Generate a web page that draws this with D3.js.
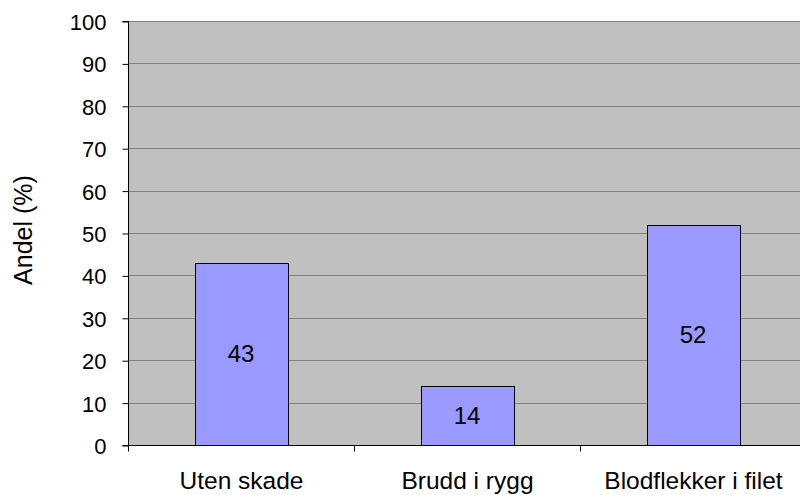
<!DOCTYPE html>
<html><head><meta charset="utf-8">
<script src="https://cdn.jsdelivr.net/npm/d3@7"></script>
<style>body{margin:0;background:#fff}svg{display:block}text{font-family:"Liberation Sans",Arial,sans-serif}</style>
</head><body>
<svg id="c" width="800" height="495"></svg>
<script>
const categories = ["Uten skade", "Brudd i rygg", "Blodflekker i filet"];
const values = [43, 14, 52];
const yTicks = [0, 10, 20, 30, 40, 50, 60, 70, 80, 90, 100];
const yLabel = "Andel (%)";

const svg = d3.select("#c");
const m = {left: 128, top: 21, right: 806, bottom: 445};
const x = d3.scaleBand().domain(categories).range([m.left, m.right]).paddingInner(0.59).paddingOuter(0.295);
const xb = d3.scaleBand().domain(categories).range([m.left, m.right]);
const y = d3.scaleLinear().domain([0, 100]).range([m.bottom, m.top]);

svg.append("rect").attr("x", m.left).attr("y", m.top).attr("width", m.right - m.left).attr("height", m.bottom - m.top).attr("fill", "#c0c0c0");

svg.append("g").selectAll("line").data(yTicks.filter(d => d > 0)).join("line")
  .attr("x1", m.left).attr("x2", m.right).attr("y1", d => Math.round(y(d)) + 0.5).attr("y2", d => Math.round(y(d)) + 0.5)
  .attr("stroke", "#808080").attr("stroke-width", 1);

svg.append("g").selectAll("rect").data(values).join("rect")
  .attr("x", (d, i) => Math.round(x(categories[i])) + 0.5)
  .attr("y", d => Math.round(y(d)) + 0.5)
  .attr("width", Math.round(x.bandwidth()))
  .attr("height", d => Math.round(y(0)) - Math.round(y(d)))
  .attr("fill", "#9999ff").attr("stroke", "#000").attr("stroke-width", 1);

svg.append("g").selectAll("text").data(values).join("text")
  .attr("x", (d, i) => x(categories[i]) + x.bandwidth() / 2)
  .attr("y", d => (y(d) + y(0)) / 2 + 8.5)
  .attr("text-anchor", "middle")
  .attr("font-size", 24).attr("fill", "#000").text(d => d);

const yAxis = d3.axisLeft(y).tickValues(yTicks).tickSize(6).tickPadding(16);
const gy = svg.append("g").attr("transform", `translate(${m.left + 0.5},0.5)`).call(yAxis);
gy.select(".domain").attr("d", `M-6,${m.top}H0V${m.bottom}H-6`).attr("stroke", "#000");
gy.selectAll("text").attr("font-size", 22).attr("font-family", "Liberation Sans, Arial, sans-serif").attr("fill", "#000").attr("dy", "0.36em");
gy.selectAll(".tick line").attr("stroke", "#000");

const gx = svg.append("g").attr("transform", `translate(0.5,${m.bottom + 0.5})`);
gx.append("line").attr("x1", m.left).attr("x2", 800).attr("y1", 0).attr("y2", 0).attr("stroke", "#000");
gx.selectAll("line.t").data(categories).join("line").attr("class", "t")
  .attr("x1", d => Math.round(xb(d))).attr("x2", d => Math.round(xb(d))).attr("y1", 0).attr("y2", 6).attr("stroke", "#000");
gx.selectAll("text").data(categories).join("text")
  .attr("x", d => xb(d) + xb.bandwidth() / 2).attr("y", 43)
  .attr("text-anchor", "middle").attr("font-size", 24.5).attr("fill", "#000").text(d => d);

svg.append("text").attr("transform", `translate(32,${(m.top + m.bottom) / 2 - 3}) rotate(-90)`)
  .attr("text-anchor", "middle").attr("font-size", 25).attr("fill", "#000").text(yLabel);
</script>
</body></html>
